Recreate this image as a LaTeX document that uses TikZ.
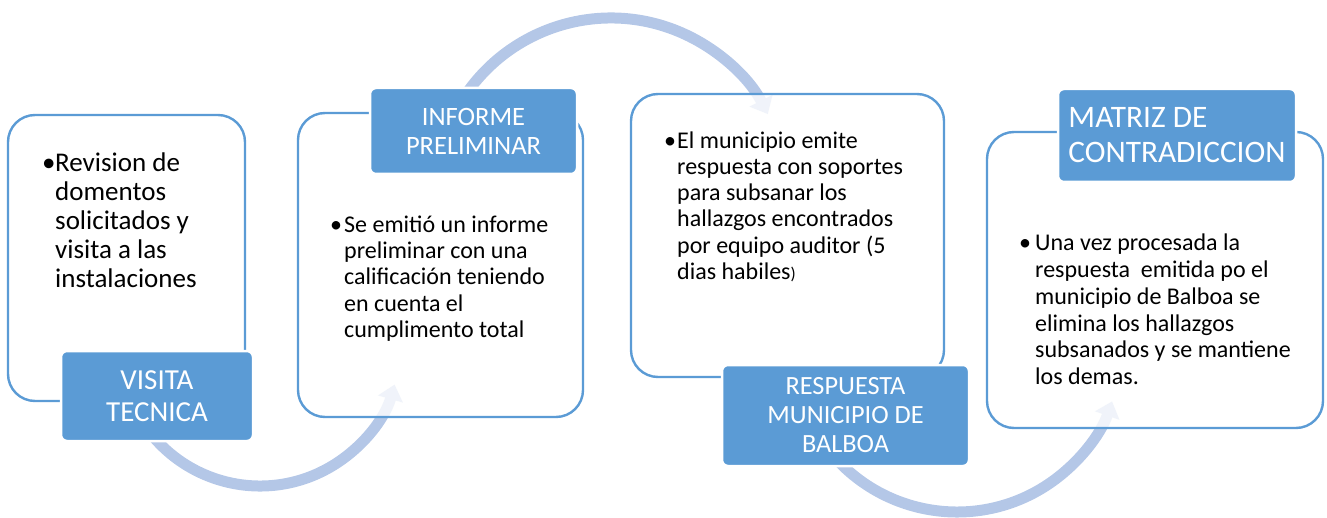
\documentclass[tikz,border=0pt]{standalone}
\usepackage{fontspec}
\setmainfont{Carlito}
\usetikzlibrary{arrows.meta,calc}
\definecolor{boxblue}{RGB}{91,155,213}
\definecolor{arcblue}{RGB}{180,199,231}
\newcommand\bulmark[1]{\makebox[#1][l]{•}}
\begin{document}
\begin{tikzpicture}[x=1pt,y=-1pt,
  card/.style={draw=boxblue, line width=2.4pt, fill=white, fill opacity=0.8, rounded corners=27pt, inner sep=0pt},
  tag/.style={fill=boxblue, draw=white, line width=2.5pt, rounded corners=6pt, text=white, inner sep=0pt},
  flow/.style={draw=arcblue, line width=11pt, -{Triangle[width=25pt,length=15pt]}},
  body/.style={anchor=north west, inner sep=0pt, align=left, text=black}]
\useasboundingbox (0,0) rectangle (1327,518);

% curved arrows (under the boxes)
\coordinate (c1) at (260,346);
\coordinate (c2) at (611,194);
\coordinate (c3) at (957,348);
\coordinate (a1) at ($(c1)+(150:140)$);
\coordinate (a2) at ($(c2)+(205:176)$);
\coordinate (a3) at ($(c3)+(145:164)$);
\draw[flow] (a1) arc[start angle=150, end angle=16, radius=140];
\draw[flow] (a2) arc[start angle=205, end angle=333, radius=176];
\draw[flow] (a3) arc[start angle=145, end angle=19, radius=164];

% content boxes
\node[card, minimum width=237pt, minimum height=286pt] (b1) at (126.5,258) {};
\node[card, minimum width=285pt, minimum height=304pt] (b2) at (440.5,265) {};
\node[card, minimum width=313pt, minimum height=283pt] (b3) at (787.5,235.5) {};
\node[card, minimum width=336pt, minimum height=296pt] (b4) at (1155,280) {};

% title tags
\node[tag, minimum width=192pt, minimum height=90pt, align=center,
      font=\fontsize{29}{32}\selectfont] (l1) at (157,396) {VISITA\\TECNICA};
\node[tag, minimum width=207pt, minimum height=86pt, align=center,
      font=\fontsize{26.5}{29}\selectfont] (l2) at (473.5,131) {INFORME\\PRELIMINAR};
\node[tag, minimum width=247pt, minimum height=101pt, align=center,
      font=\fontsize{26.3}{29}\selectfont] (l3) at (845.5,415.5) {RESPUESTA\\MUNICIPIO DE\\BALBOA};
\node[tag, minimum width=238pt, minimum height=93pt, align=left,
      font=\fontsize{31.3}{35}\selectfont] (l4) at (1177,135.5) {MATRIZ DE\\CONTRADICCION};

% body texts
\node[body, font=\fontsize{27}{29}\selectfont] (t1) at (42,151.2)
 {\strut\bulmark{13pt}Revision de\\\hspace*{13pt}domentos\\\hspace*{13pt}solicitados y\\\hspace*{13pt}visita a las\\\hspace*{13pt}instalaciones};
\node[body, font=\fontsize{24}{26.3}\selectfont] (t2) at (330,213.6)
 {\strut\bulmark{14pt}Se emitió un informe\\\hspace*{14pt}preliminar con una\\\hspace*{14pt}calificación teniendo\\\hspace*{14pt}en cuenta el\\\hspace*{14pt}cumplimento total};
\node[body, font=\fontsize{24}{26.2}\selectfont] (t3) at (664,129.7)
 {\strut\bulmark{13pt}El municipio emite\\\hspace*{13pt}respuesta con soportes\\\hspace*{13pt}para subsanar los\\\hspace*{13pt}hallazgos encontrados\\\hspace*{13pt}por equipo auditor (5\\\hspace*{13pt}dias habiles{\fontsize{17}{20}\selectfont)}};
\node[body, font=\fontsize{24}{26.8}\selectfont] (t4) at (1019,231.7)
 {\strut\bulmark{16pt}Una vez procesada la\\\hspace*{16pt}respuesta\ \ emitida po el\\\hspace*{16pt}municipio de Balboa se\\\hspace*{16pt}elimina los hallazgos\\\hspace*{16pt}subsanados y se mantiene\\\hspace*{16pt}los demas.};
\end{tikzpicture}
\end{document}
